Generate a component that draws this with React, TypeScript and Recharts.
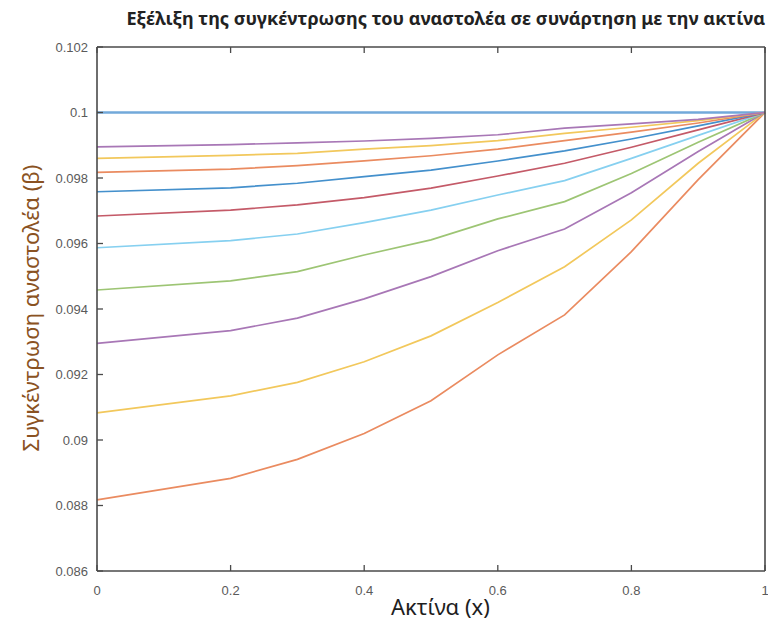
import { useLayoutEffect } from "react"
import { LineChart, Line, XAxis, YAxis } from "recharts"

// radius positions where the curves were sampled
const radius = [0, 0.2, 0.3, 0.4, 0.5, 0.6, 0.7, 0.8, 0.9, 1]

// inhibitor concentration curves (top to bottom order noted)
const curveFlat = [0.1, 0.1, 0.1, 0.1, 0.1, 0.1, 0.1, 0.1, 0.1, 0.1]
const curveOrangeLow = [0.08817, 0.08883, 0.08941, 0.0902, 0.0912, 0.0926, 0.09382, 0.09575, 0.09795, 0.1]
const curveYellowLow = [0.09083, 0.09135, 0.09176, 0.09239, 0.09318, 0.0942, 0.09529, 0.09672, 0.09845, 0.1]
const curvePurpleLow = [0.09295, 0.09334, 0.09372, 0.09431, 0.09499, 0.09578, 0.09644, 0.09755, 0.09881, 0.1]
const curveGreen = [0.09458, 0.09486, 0.09514, 0.09565, 0.09611, 0.09675, 0.09728, 0.09814, 0.09909, 0.1]
const curveLightBlue = [0.09587, 0.09609, 0.09629, 0.09664, 0.09702, 0.09748, 0.09792, 0.0986, 0.0993, 0.1]
const curveDarkRed = [0.09684, 0.09702, 0.09718, 0.0974, 0.09769, 0.09806, 0.09845, 0.09894, 0.09947, 0.1]
const curveBlue = [0.09758, 0.0977, 0.09784, 0.09804, 0.09824, 0.09852, 0.09883, 0.09919, 0.09959, 0.1]
const curveOrangeHigh = [0.09817, 0.09827, 0.09838, 0.09852, 0.09868, 0.09888, 0.09914, 0.0994, 0.09968, 0.1]
const curveYellowHigh = [0.0986, 0.09869, 0.09875, 0.09888, 0.09899, 0.09914, 0.09936, 0.09955, 0.09975, 0.1]
const curvePurpleHigh = [0.09895, 0.09902, 0.09907, 0.09913, 0.09921, 0.09932, 0.09952, 0.09965, 0.09979, 0.1]

const xTicks = [0, 0.2, 0.4, 0.6, 0.8, 1]
const yTicks = [0.086, 0.088, 0.09, 0.092, 0.094, 0.096, 0.098, 0.1, 0.102]

const series = [
  { key: "c1", values: curveFlat, color: "#72a9da", width: 2.4 },
  { key: "c2", values: curveOrangeLow, color: "#ea8b60", width: 1.7 },
  { key: "c3", values: curveYellowLow, color: "#f2c85c", width: 1.7 },
  { key: "c4", values: curvePurpleLow, color: "#a877b6", width: 1.7 },
  { key: "c5", values: curveGreen, color: "#9dc574", width: 1.7 },
  { key: "c6", values: curveLightBlue, color: "#86d0f0", width: 1.7 },
  { key: "c7", values: curveDarkRed, color: "#c45a68", width: 1.7 },
  { key: "c8", values: curveBlue, color: "#4490cc", width: 1.7 },
  { key: "c9", values: curveOrangeHigh, color: "#ea8b60", width: 1.7 },
  { key: "c10", values: curveYellowHigh, color: "#f2c85c", width: 1.7 },
  { key: "c11", values: curvePurpleHigh, color: "#a877b6", width: 1.7 },
]

const data = radius.map((x, i) => {
  const row: Record<string, number> = { x }
  series.forEach((s) => {
    row[s.key] = s.values[i]
  })
  return row
})

const AXIS = "#4a4a4a"
const TICK_TEXT = "#5a5a5a"
const TICK_FONT = "'Liberation Sans', Arial, sans-serif"

const BottomTick = ({ x, y, payload }: any) => (
  <g>
    <line x1={x} x2={x} y1={y} y2={y - 6} stroke={AXIS} strokeWidth={1.3} />
    <text x={x} y={y + 24} textAnchor="middle" fontSize={13} fill={TICK_TEXT} fontFamily={TICK_FONT}>
      {String(payload.value)}
    </text>
  </g>
)

const TopTick = ({ x, y }: any) => (
  <line x1={x} x2={x} y1={y} y2={y + 6} stroke={AXIS} strokeWidth={1.3} />
)

const LeftTick = ({ x, y, payload }: any) => (
  <g>
    <line x1={x} x2={x + 6} y1={y} y2={y} stroke={AXIS} strokeWidth={1.3} />
    <text x={x - 9} y={y} dy="0.35em" textAnchor="end" fontSize={13} fill={TICK_TEXT} fontFamily={TICK_FONT}>
      {String(payload.value)}
    </text>
  </g>
)

const RightTick = ({ x, y }: any) => (
  <line x1={x} x2={x - 6} y1={y} y2={y} stroke={AXIS} strokeWidth={1.3} />
)

export default function App() {
  // the chart needs the full window width, so drop the default body margin
  useLayoutEffect(() => {
    document.body.style.margin = "0"
  }, [])

  return (
    <div style={{ position: "relative", width: 768, height: 631, fontFamily: "'Noto Sans', sans-serif" }}>
      <div
        style={{
          position: "absolute",
          right: 3,
          top: 6,
          fontSize: 18.1,
          fontWeight: 700,
          color: "#222",
          whiteSpace: "nowrap",
          textAlign: "right",
        }}
      >
        Εξέλιξη της συγκέντρωσης του αναστολέα σε συνάρτηση με την ακτίνα
      </div>

      <LineChart width={768} height={631} data={data} margin={{ top: 46, right: 2, bottom: 59, left: 96 }}>
        <XAxis
          dataKey="x"
          type="number"
          domain={[0, 1]}
          ticks={xTicks}
          height={1}
          tickSize={0}
          tickMargin={0}
          tickLine={false}
          tick={<BottomTick />}
          axisLine={{ stroke: AXIS, strokeWidth: 1.6 }}
          interval={0}
        />
        <XAxis
          xAxisId="top"
          orientation="top"
          dataKey="x"
          type="number"
          domain={[0, 1]}
          ticks={xTicks}
          height={1}
          tickSize={0}
          tickMargin={0}
          tickLine={false}
          tick={<TopTick />}
          axisLine={{ stroke: AXIS, strokeWidth: 1.6 }}
          interval={0}
        />
        <YAxis
          type="number"
          domain={[0.086, 0.102]}
          ticks={yTicks}
          width={1}
          tickSize={0}
          tickMargin={0}
          tickLine={false}
          tick={<LeftTick />}
          axisLine={{ stroke: AXIS, strokeWidth: 1.6 }}
          interval={0}
          allowDataOverflow
        />
        <YAxis
          yAxisId="right"
          orientation="right"
          type="number"
          domain={[0.086, 0.102]}
          ticks={yTicks}
          width={1}
          tickSize={0}
          tickMargin={0}
          tickLine={false}
          tick={<RightTick />}
          axisLine={{ stroke: AXIS, strokeWidth: 1.6 }}
          interval={0}
        />
        {series.map((s) => (
          <Line
            key={s.key}
            type="linear"
            dataKey={s.key}
            stroke={s.color}
            strokeWidth={s.width}
            dot={false}
            activeDot={false}
            isAnimationActive={false}
          />
        ))}
      </LineChart>

      <div
        style={{
          position: "absolute",
          left: 391,
          top: 591,
          fontSize: 22,
          color: "#1e1e1e",
          whiteSpace: "nowrap",
        }}
      >
        Ακτίνα (x)
      </div>

      <div
        style={{
          position: "absolute",
          left: 30,
          top: 308,
          fontSize: 22,
          color: "#8a5222",
          whiteSpace: "nowrap",
          transform: "translate(-50%, -50%) rotate(-90deg)",
        }}
      >
        Συγκέντρωση αναστολέα (β)
      </div>
    </div>
  )
}
